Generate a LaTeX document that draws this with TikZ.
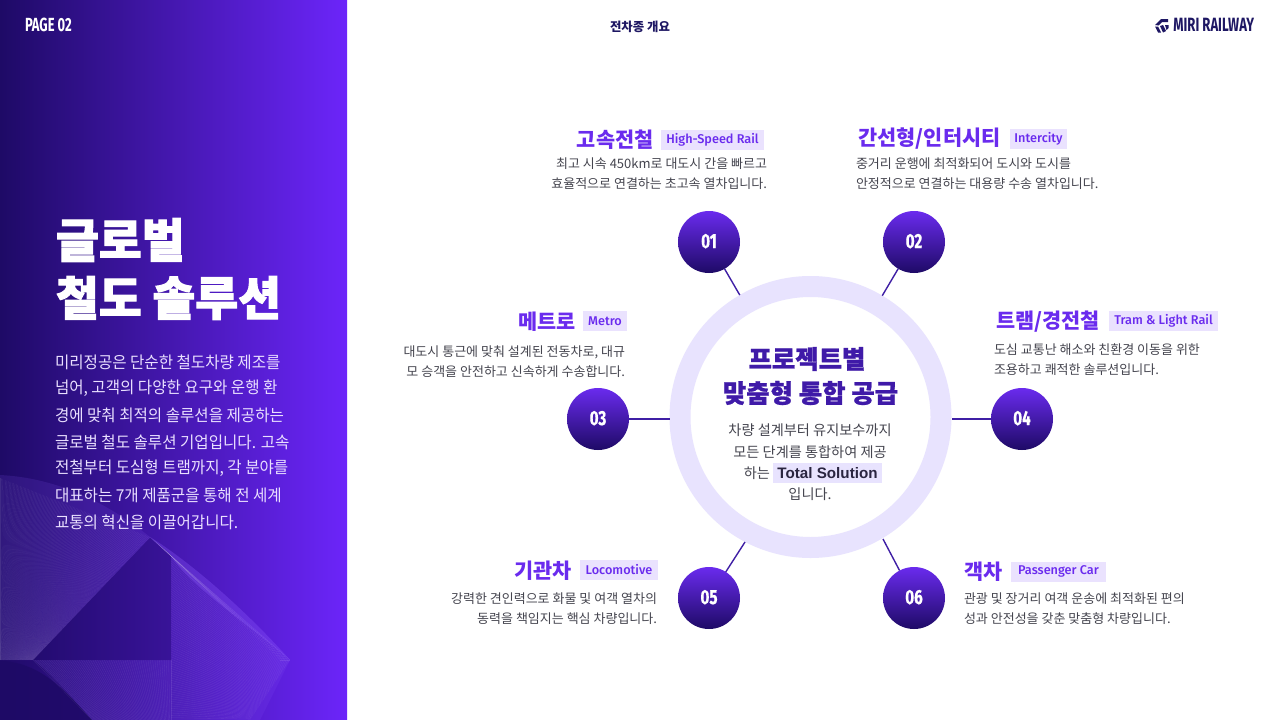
\documentclass[tikz,border=0pt]{standalone}
\usepackage{fontspec}
\setmainfont{Noto Sans CJK KR}
\newfontfamily\cndf[FakeStretch=0.68]{Fira Sans}
\newfontfamily\numf[FakeStretch=0.74,BoldFeatures={FakeBold=0.6}]{Fira Sans}
\newfontfamily\tagf[BoldFont={Fira Sans Medium}]{Fira Sans}
\newfontfamily\leftf[FakeStretch=0.95]{Noto Sans CJK KR}
\newfontfamily\heavyf[BoldFeatures={FakeBold=2.2}]{Noto Sans CJK KR}
\newfontfamily\midheavyf[BoldFeatures={FakeBold=1}]{Noto Sans CJK KR}
\newfontfamily\latinb{Liberation Sans}
\usetikzlibrary{calc}
\definecolor{panelL}{HTML}{1E0A66}
\definecolor{panelR}{HTML}{6C25FA}
\definecolor{vio}{HTML}{6A2BEE}
\definecolor{navy}{HTML}{1E1763}
\definecolor{deep}{HTML}{3F1AA8}
\definecolor{tagbg}{HTML}{EAE2FE}
\definecolor{ringc}{HTML}{E8E3FE}
\definecolor{body}{HTML}{45454F}
\definecolor{lite}{HTML}{E9DFFF}
\definecolor{conn}{HTML}{3F1FA5}
\definecolor{glow}{HTML}{8F5CFF}
\definecolor{inkd}{HTML}{2A2540}
\tikzset{
 txt/.style={inner sep=0,outer sep=0},
 heading/.style={txt,font=\fontsize{20.8}{24}\selectfont\bfseries,text=vio},
 tagbox/.style={inner sep=0,outer sep=0,minimum height=20,fill=tagbg,text=vio,font=\tagf\fontsize{12.7}{14}\selectfont\bfseries},
 desc/.style={txt,font=\fontsize{13}{20}\selectfont,text=body},
 numc/.style={circle,minimum size=62,inner sep=0,outer sep=0,top color=vio,bottom color=panelL,text=white,font=\numf\fontsize{20.5}{20}\selectfont\bfseries},
 link/.style={draw=conn,line width=1.4},
 leftline/.style={txt,anchor=west,text=lite,font=\leftf\fontsize{16.4}{20}\selectfont},
 bigt/.style={txt,anchor=west,text=white,font=\heavyf\fontsize{46.6}{50}\selectfont\bfseries},
 ctitle/.style={txt,text=deep,font=\midheavyf\fontsize{25.4}{28}\selectfont\bfseries},
 cline/.style={txt,text=body,font=\fontsize{14.2}{18}\selectfont},
 wire/.style={line width=0.3,white,opacity=.09},
 patch/.style={fill=glow,opacity=#1},
}
% ruled family: #1 lines between segments (#2)-(#3) and (#4)-(#5)
\newcommand{\ruled}[5]{\foreach \i in {0,...,#1}{\pgfmathsetmacro{\t}{\i/#1}
  \draw[wire] ($(#2)!\t!(#3)$) -- ($(#4)!\t!(#5)$);}}
\begin{document}
\begin{tikzpicture}[x=1pt,y=-1pt]
\useasboundingbox (0,0) rectangle (1280,720);
\fill[white] (0,0) rectangle (1280,720);
\shade[left color=panelL,right color=panelR] (0,0) rectangle (347,720);
\begin{scope}
\clip (0,0) rectangle (347,720);
\fill[patch=.14] (0,475) .. controls (60,478) and (110,505) .. (150,537) -- (33,660) -- (0,660) -- cycle;
\fill[patch=.3] (150,537) .. controls (195,565) and (250,615) .. (290,660) .. controls (240,618) and (190,585) .. (171,556) -- cycle;
\fill[patch=.12] (171,556) -- (290,660) -- (260,720) -- (171,720) -- cycle;
\fill[patch=.12] (33,660) -- (171,660) -- (171,720) -- (92,720) .. controls (70,695) and (50,672) .. (33,660) -- cycle;
\fill[panelL,opacity=.3] (33,660) -- (150,538) -- (171,556) -- (171,660) -- cycle;
\fill[panelL,opacity=.85] (0,661) .. controls (40,662) and (65,690) .. (92,720) -- (0,720) -- cycle;
\ruled{110}{0,478}{150,537}{0,660}{33,660}
\ruled{70}{150,537}{290,660}{171,556}{280,660}
\ruled{70}{171,556}{171,720}{290,660}{250,720}
\ruled{60}{33,660}{171,660}{92,720}{171,720}
\end{scope}

\node[txt,anchor=west,text=white,font=\cndf\fontsize{19}{20}\selectfont\bfseries] (page) at (25,25) {PAGE 02};
\node[txt,text=navy,font=\fontsize{12.4}{14}\selectfont\bfseries] (sect) at (640,27) {전차종 개요};
\node[txt,anchor=east,text=navy,font=\cndf\fontsize{19.2}{20}\selectfont\bfseries] (brand) at (1254,25) {MIRI RAILWAY};
\fill[navy] (1155,25) -- (1161,19) -- (1168,19) -- (1168,22) -- (1162,22) -- (1158.5,25.5) -- cycle;
\fill[navy] (1155,26.5) -- (1158,26.5) -- (1161,32.5) -- (1158,32.5) -- cycle;
\fill[navy] (1160,26) -- (1163,25) -- (1166,31) -- (1163,32.5) -- cycle;
\fill[navy] (1165,25) -- (1168.5,25) -- (1168.5,28) -- (1166.5,30) -- cycle;

\node[bigt] (t1) at (56,240) {글로벌};
\node[bigt] (t2) at (56,298) {철도 솔루션};
\node[leftline] (l1) at (55,362) {미리정공은 단순한 철도차량 제조를};
\node[leftline] (l2) at (55,388.5) {넘어, 고객의 다양한 요구와 운행 환};
\node[leftline] (l3) at (55,415) {경에 맞춰 최적의 솔루션을 제공하는};
\node[leftline] (l4) at (55,442) {글로벌 철도 솔루션 기업입니다. 고속};
\node[leftline] (l5) at (55,468.5) {전철부터 도심형 트램까지, 각 분야를};
\node[leftline] (l6) at (55,495) {대표하는 7개 제품군을 통해 전 세계};
\node[leftline] (l7) at (55,522) {교통의 혁신을 이끌어갑니다.};

% centre
\node[circle,draw=ringc,line width=21,fill=white,minimum size=261,inner sep=0] (ring) at (810.5,417) {};
\node[numc] (c1) at (709,242) {\raisebox{2pt}{01}};
\node[numc] (c2) at (914,242) {\raisebox{2pt}{02}};
\node[numc] (c3) at (598,419) {\raisebox{2pt}{03}};
\node[numc] (c4) at (1022,419) {\raisebox{2pt}{04}};
\node[numc] (c5) at (709,598) {\raisebox{2pt}{05}};
\node[numc] (c6) at (914,598) {\raisebox{2pt}{06}};
\coordinate (e5) at (745,542);
\coordinate (e6) at (883,539);
\draw[link] (c1) -- (ring);
\draw[link] (c2) -- (ring);
\draw[link] (c3) -- (ring.west |- c3);
\draw[link] (c4) -- (ring.east |- c4);
\draw[link] (c5) -- (e5);
\draw[link] (c6) -- (e6);

\node[ctitle] (ct1) at (807,359) {프로젝트별};
\node[ctitle] (ct2) at (810.5,393) {맞춤형 통합 공급};
\node[cline] (cl1) at (810,430) {차량 설계부터 유지보수까지};
\node[cline] (cl2) at (810,452) {모든 단계를 통합하여 제공};
\node[inner sep=0,outer sep=0,fill=ringc,minimum width=109,minimum height=20,text=inkd,font=\latinb\fontsize{15.2}{18}\selectfont\bfseries] (ts) at (827.5,473) {Total Solution\hspace{6pt}};
\node[cline,anchor=east] (cl3) at ([xshift=-3pt]ts.west) {하는};
\node[cline] (cl4) at (810,494) {입니다.};

% 01
\node[tagbox,minimum width=103,anchor=east] (g1) at (764,139.5) {High-Speed Rail};
\node[heading,anchor=east] (h1) at ([xshift=-7.5pt]g1.west) {고속전철};
\node[desc,anchor=east,align=right] (d1) at (767,173.5) {최고 시속 450km로 대도시 간을 빠르고\\효율적으로 연결하는 초고속 열차입니다.};
% 02
\node[tagbox,minimum width=57,anchor=west] (g2) at (1010,138.5) {Intercity};
\node[heading,anchor=east] (h2) at ([xshift=-9.5pt]g2.west) {간선형/인터시티};
\node[desc,anchor=west,align=left] (d2) at (856,173.5) {중거리 운행에 최적화되어 도시와 도시를\\안정적으로 연결하는 대용량 수송 열차입니다.};
% 03
\node[tagbox,minimum width=44,anchor=east] (g3) at (627,321) {Metro};
\node[heading,anchor=east] (h3) at ([xshift=-7pt,yshift=-1pt]g3.west) {메트로};
\node[desc,anchor=east,align=right] (d3) at (625,362) {대도시 통근에 맞춰 설계된 전동차로, 대규\\모 승객을 안전하고 신속하게 수송합니다.};
% 04
\node[tagbox,minimum width=109,anchor=west] (g4) at (1109,321) {Tram \& Light Rail};
\node[heading,anchor=east] (h4) at ([xshift=-9pt,yshift=-1pt]g4.west) {트램/경전철};
\node[desc,anchor=west,align=left] (d4) at (994,360) {도심 교통난 해소와 친환경 이동을 위한\\조용하고 쾌적한 솔루션입니다.};
% 05
\node[tagbox,minimum width=78,anchor=east] (g5) at (658,570) {Locomotive};
\node[heading,anchor=east] (h5) at ([xshift=-8pt,yshift=-1pt]g5.west) {기관차};
\node[desc,anchor=east,align=right] (d5) at (657,609) {강력한 견인력으로 화물 및 여객 열차의\\동력을 책임지는 핵심 차량입니다.};
% 06
\node[tagbox,minimum width=95,anchor=west] (g6) at (1011,571.5) {Passenger Car};
\node[heading,anchor=east] (h6) at ([xshift=-8pt]g6.west) {객차};
\node[desc,anchor=west,align=left] (d6) at (964,609) {관광 및 장거리 여객 운송에 최적화된 편의\\성과 안전성을 갖춘 맞춤형 차량입니다.};
\end{tikzpicture}
\end{document}
